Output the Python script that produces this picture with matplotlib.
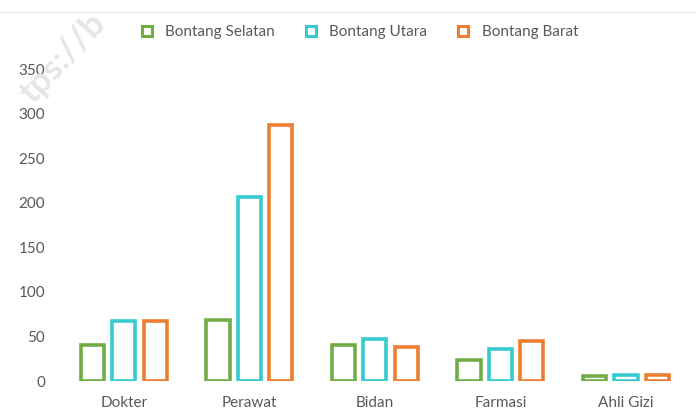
import matplotlib
matplotlib.use("Agg")
import matplotlib.pyplot as plt
import numpy as np
from matplotlib.lines import Line2D
from matplotlib.patches import Patch

categories = ["Dokter", "Perawat", "Bidan", "Farmasi", "Ahli Gizi"]
series_names = ["Bontang Selatan", "Bontang Utara", "Bontang Barat"]
bontang_selatan = [40, 68, 40, 24, 6]
bontang_utara = [67, 206, 47, 36, 7]
bontang_barat = [67, 287, 38, 45, 7]
yticks = [0, 50, 100, 150, 200, 250, 300, 350]

colors = ["#70AD47", "#35CBD0", "#ED7D31"]
plt.rcParams['font.family'] = ['Lato', 'DejaVu Sans']

fig = plt.figure(figsize=(6.96, 4.16), dpi=100)
ax = fig.add_axes([0.0876, 0.0841, 0.902, 0.75])

x = np.arange(len(categories))
offs = [-0.25, 0.0, 0.25]
w = 0.185
for vals, off, c in zip([bontang_selatan, bontang_utara, bontang_barat], offs, colors):
    ax.bar(x + off, vals, width=w, facecolor="white", edgecolor=c, linewidth=2.6)

ax.set_xlim(-0.5, len(categories) - 0.5)
ax.set_ylim(0, 350)
ax.set_yticks(yticks)
ax.set_xticks(x)
ax.set_xticklabels(categories)
for s in ax.spines.values():
    s.set_visible(False)
ax.tick_params(axis='both', length=0, colors="#595959", labelsize=11)
ax.tick_params(axis='y', pad=11.5)
ax.tick_params(axis='x', pad=11)

handles = [Patch(facecolor="white", edgecolor=c, linewidth=2.2) for c in colors]
fig.legend(handles, series_names, loc="center", bbox_to_anchor=(0.517, 0.923),
           ncol=3, frameon=False, fontsize=11, handlelength=0.65, handleheight=0.65,
           handletextpad=0.9, columnspacing=2.0, labelcolor="#595959")

# top separator line
fig.add_artist(Line2D([0.0, 1.0], [1 - 12/416, 1 - 12/416], color="#EDEDED", linewidth=1))

# watermark
fig.text(0.09, 0.86, "tps://b", fontsize=25, rotation=47, color="#E6E6E6",
         ha="center", va="center", fontweight="bold", zorder=0)

fig.savefig("out.png", dpi=100)
